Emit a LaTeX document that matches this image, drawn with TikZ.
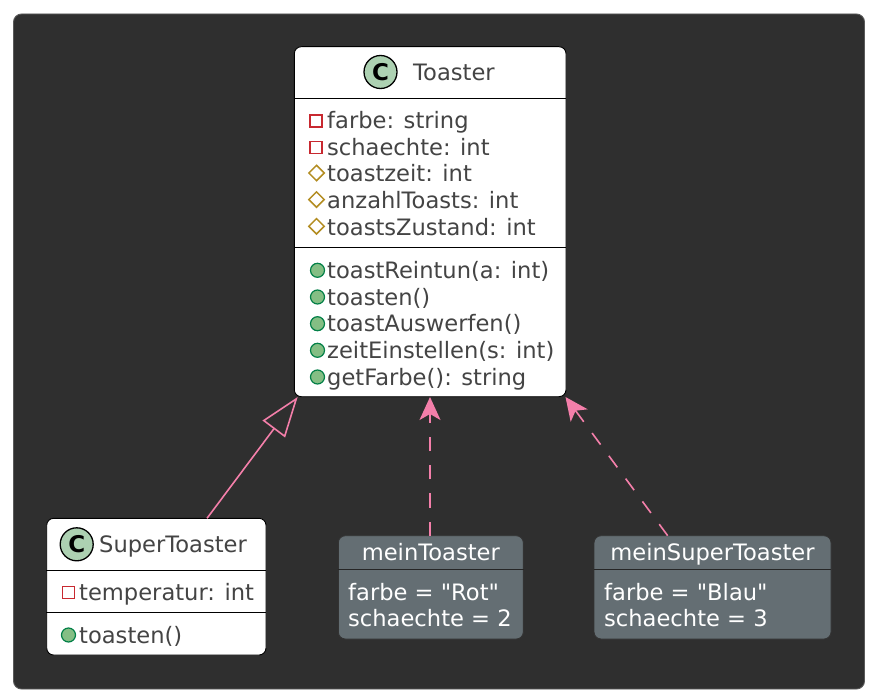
\documentclass[tikz,border=0pt]{standalone}
\usepackage{fontspec}
\setmainfont{DejaVu Sans}[Ligatures=TeXOff]
\usetikzlibrary{arrows.meta,shapes.geometric}
\definecolor{bgdark}{HTML}{2F2F2F}
\definecolor{framegray}{HTML}{5A5A5A}
\definecolor{txtgray}{HTML}{444444}
\definecolor{linkpink}{HTML}{F47FAA}
\definecolor{privred}{HTML}{C82930}
\definecolor{protgold}{HTML}{B38D22}
\definecolor{pubfill}{HTML}{84BE84}
\definecolor{publine}{HTML}{038048}
\definecolor{cfill}{HTML}{ADD1B2}
\definecolor{objgray}{HTML}{646E73}
\tikzset{
  classbox/.style={draw=black, fill=white, line width=0.9pt, rounded corners=7pt, inner sep=0pt},
  objbox/.style={draw=black!80, fill=objgray, line width=0.9pt, rounded corners=7pt, inner sep=0pt},
  sepline/.style={draw=black, line width=1pt},
  objsep/.style={draw=black!85, line width=1pt},
  membertext/.style={anchor=base west, inner sep=0pt, text=txtgray, font=\fontsize{22.6}{26.7}\selectfont},
  objtext/.style={anchor=base west, inner sep=0pt, text=white, font=\fontsize{22.6}{26.7}\selectfont},
  objtitle/.style={anchor=base, inner sep=0pt, text=white, font=\fontsize{22.6}{26.7}\selectfont},
  titletext/.style={anchor=base west, inner sep=0pt, text=txtgray, font=\fontsize{22.6}{26.7}\selectfont},
  cicon/.style={circle, draw=black, fill=cfill, line width=1.3pt, minimum size=33pt, inner sep=0pt, font=\fontsize{23}{23}\selectfont\bfseries},
  privicon/.style={rectangle, draw=privred, line width=1.6pt, minimum size=12pt, inner sep=0pt},
  proticon/.style={diamond, draw=protgold, line width=1.5pt, minimum size=16pt, inner sep=0pt},
  pubicon/.style={circle, draw=publine, fill=pubfill, line width=1.2pt, minimum size=14pt, inner sep=0pt},
  inherit/.style={draw=linkpink, line width=1.6pt, -{Triangle[open, length=40pt, width=28pt, fill=bgdark]}},
  depend/.style={draw=linkpink, line width=1.6pt, dash pattern=on 14.3pt off 14pt, -{Stealth[length=23pt, width=21pt, inset=6pt]}},
}
\begin{document}
\begin{tikzpicture}[x=1pt,y=-1pt]
\useasboundingbox (0,0) rectangle (874,698);
\node[draw=framegray, fill=bgdark, line width=0.9pt, rounded corners=8pt, minimum width=851pt, minimum height=675pt, inner sep=0pt] (frame) at (439,351.5) {};

% Toaster class
\node[classbox, minimum width=271.7pt, minimum height=350pt] (toaster) at (430.15,221.7) {};
\draw[sepline] (toaster.west |- 0,98.3) coordinate (ts1) -- (toaster.east |- 0,98.3) coordinate (ts2);
\draw[sepline] (toaster.west |- 0,247) coordinate (ts3) -- (toaster.east |- 0,247) coordinate (ts4);
\node[cicon] (tc) at (380.5,72) {C};
\node[titletext] (tname) at (413,80.7) {Toaster};
\node[privicon] (ti1) at (316,121) {};
\node[membertext] (ta1) at (327,128.3) {farbe: string};
\node[privicon] (ti2) at (316,147.5) {};
\node[membertext] (ta2) at (327,155) {schaechte: int};
\node[proticon] (ti3) at (316.5,173) {};
\node[membertext] (ta3) at (327,181.7) {toastzeit: int};
\node[proticon] (ti4) at (316.5,199.6) {};
\node[membertext] (ta4) at (327,208.3) {anzahlToasts: int};
\node[proticon] (ti5) at (316.5,226.3) {};
\node[membertext] (ta5) at (327,235) {toastsZustand: int};
\node[pubicon] (tm1i) at (317.5,270.3) {};
\node[membertext] (tm1) at (327,278.3) {toastReintun(a: int)};
\node[pubicon] (tm2i) at (317.5,297) {};
\node[membertext] (tm2) at (327,305) {toasten()};
\node[pubicon] (tm3i) at (317.5,323.7) {};
\node[membertext] (tm3) at (327,331.7) {toastAuswerfen()};
\node[pubicon] (tm4i) at (317.5,350.3) {};
\node[membertext] (tm4) at (327,358.3) {zeitEinstellen(s: int)};
\node[pubicon] (tm5i) at (317.5,377) {};
\node[membertext] (tm5) at (327,385) {getFarbe(): string};

% SuperToaster class
\node[classbox, minimum width=219.3pt, minimum height=136.7pt] (super) at (156.35,586.65) {};
\draw[sepline] (super.west |- 0,570.7) coordinate (ss1) -- (super.east |- 0,570.7) coordinate (ss2);
\draw[sepline] (super.west |- 0,612.3) coordinate (ss3) -- (super.east |- 0,612.3) coordinate (ss4);
\node[cicon] (sc) at (76.7,544.3) {C};
\node[titletext] (sname) at (99,552.7) {SuperToaster};
\node[privicon] (si1) at (68.3,592.5) {};
\node[membertext] (sa1) at (79,600) {temperatur: int};
\node[pubicon] (sm1i) at (68.5,635) {};
\node[membertext] (sm1) at (79,643.3) {toasten()};

% meinToaster object
\node[objbox, minimum width=185pt, minimum height=103.3pt] (mein) at (430.8,587.35) {};
\draw[objsep] (mein.west |- 0,569.3) coordinate (ms1) -- (mein.east |- 0,569.3) coordinate (ms2);
\node[objtitle] (mname) at (430.8,560.3) {meinToaster};
\node[objtext] (mf1) at (348,600) {farbe = "Rot"};
\node[objtext] (mf2) at (348,626.7) {schaechte = 2};

% meinSuperToaster object
\node[objbox, minimum width=237pt, minimum height=103.3pt] (meinsuper) at (712.5,587.35) {};
\draw[objsep] (meinsuper.west |- 0,569.3) coordinate (mss1) -- (meinsuper.east |- 0,569.3) coordinate (mss2);
\node[objtitle] (msname) at (712.5,560.3) {meinSuperToaster};
\node[objtext] (msf1) at (604,600) {farbe = "Blau"};
\node[objtext] (msf2) at (604,626.7) {schaechte = 3};

% connectors
\coordinate (inhstart) at (207,518.3);
\coordinate (inhend) at (297.7,397);
\coordinate (d1start) at (430,536);
\coordinate (d1end) at (430,397);
\coordinate (d2start) at (667.7,535.7);
\coordinate (d2end) at (565.5,397);
\draw[inherit] (inhstart) -- (inhend);
\draw[depend] (d1start) -- (d1end);
\draw[depend] (d2start) -- (d2end);
\end{tikzpicture}
\end{document}
